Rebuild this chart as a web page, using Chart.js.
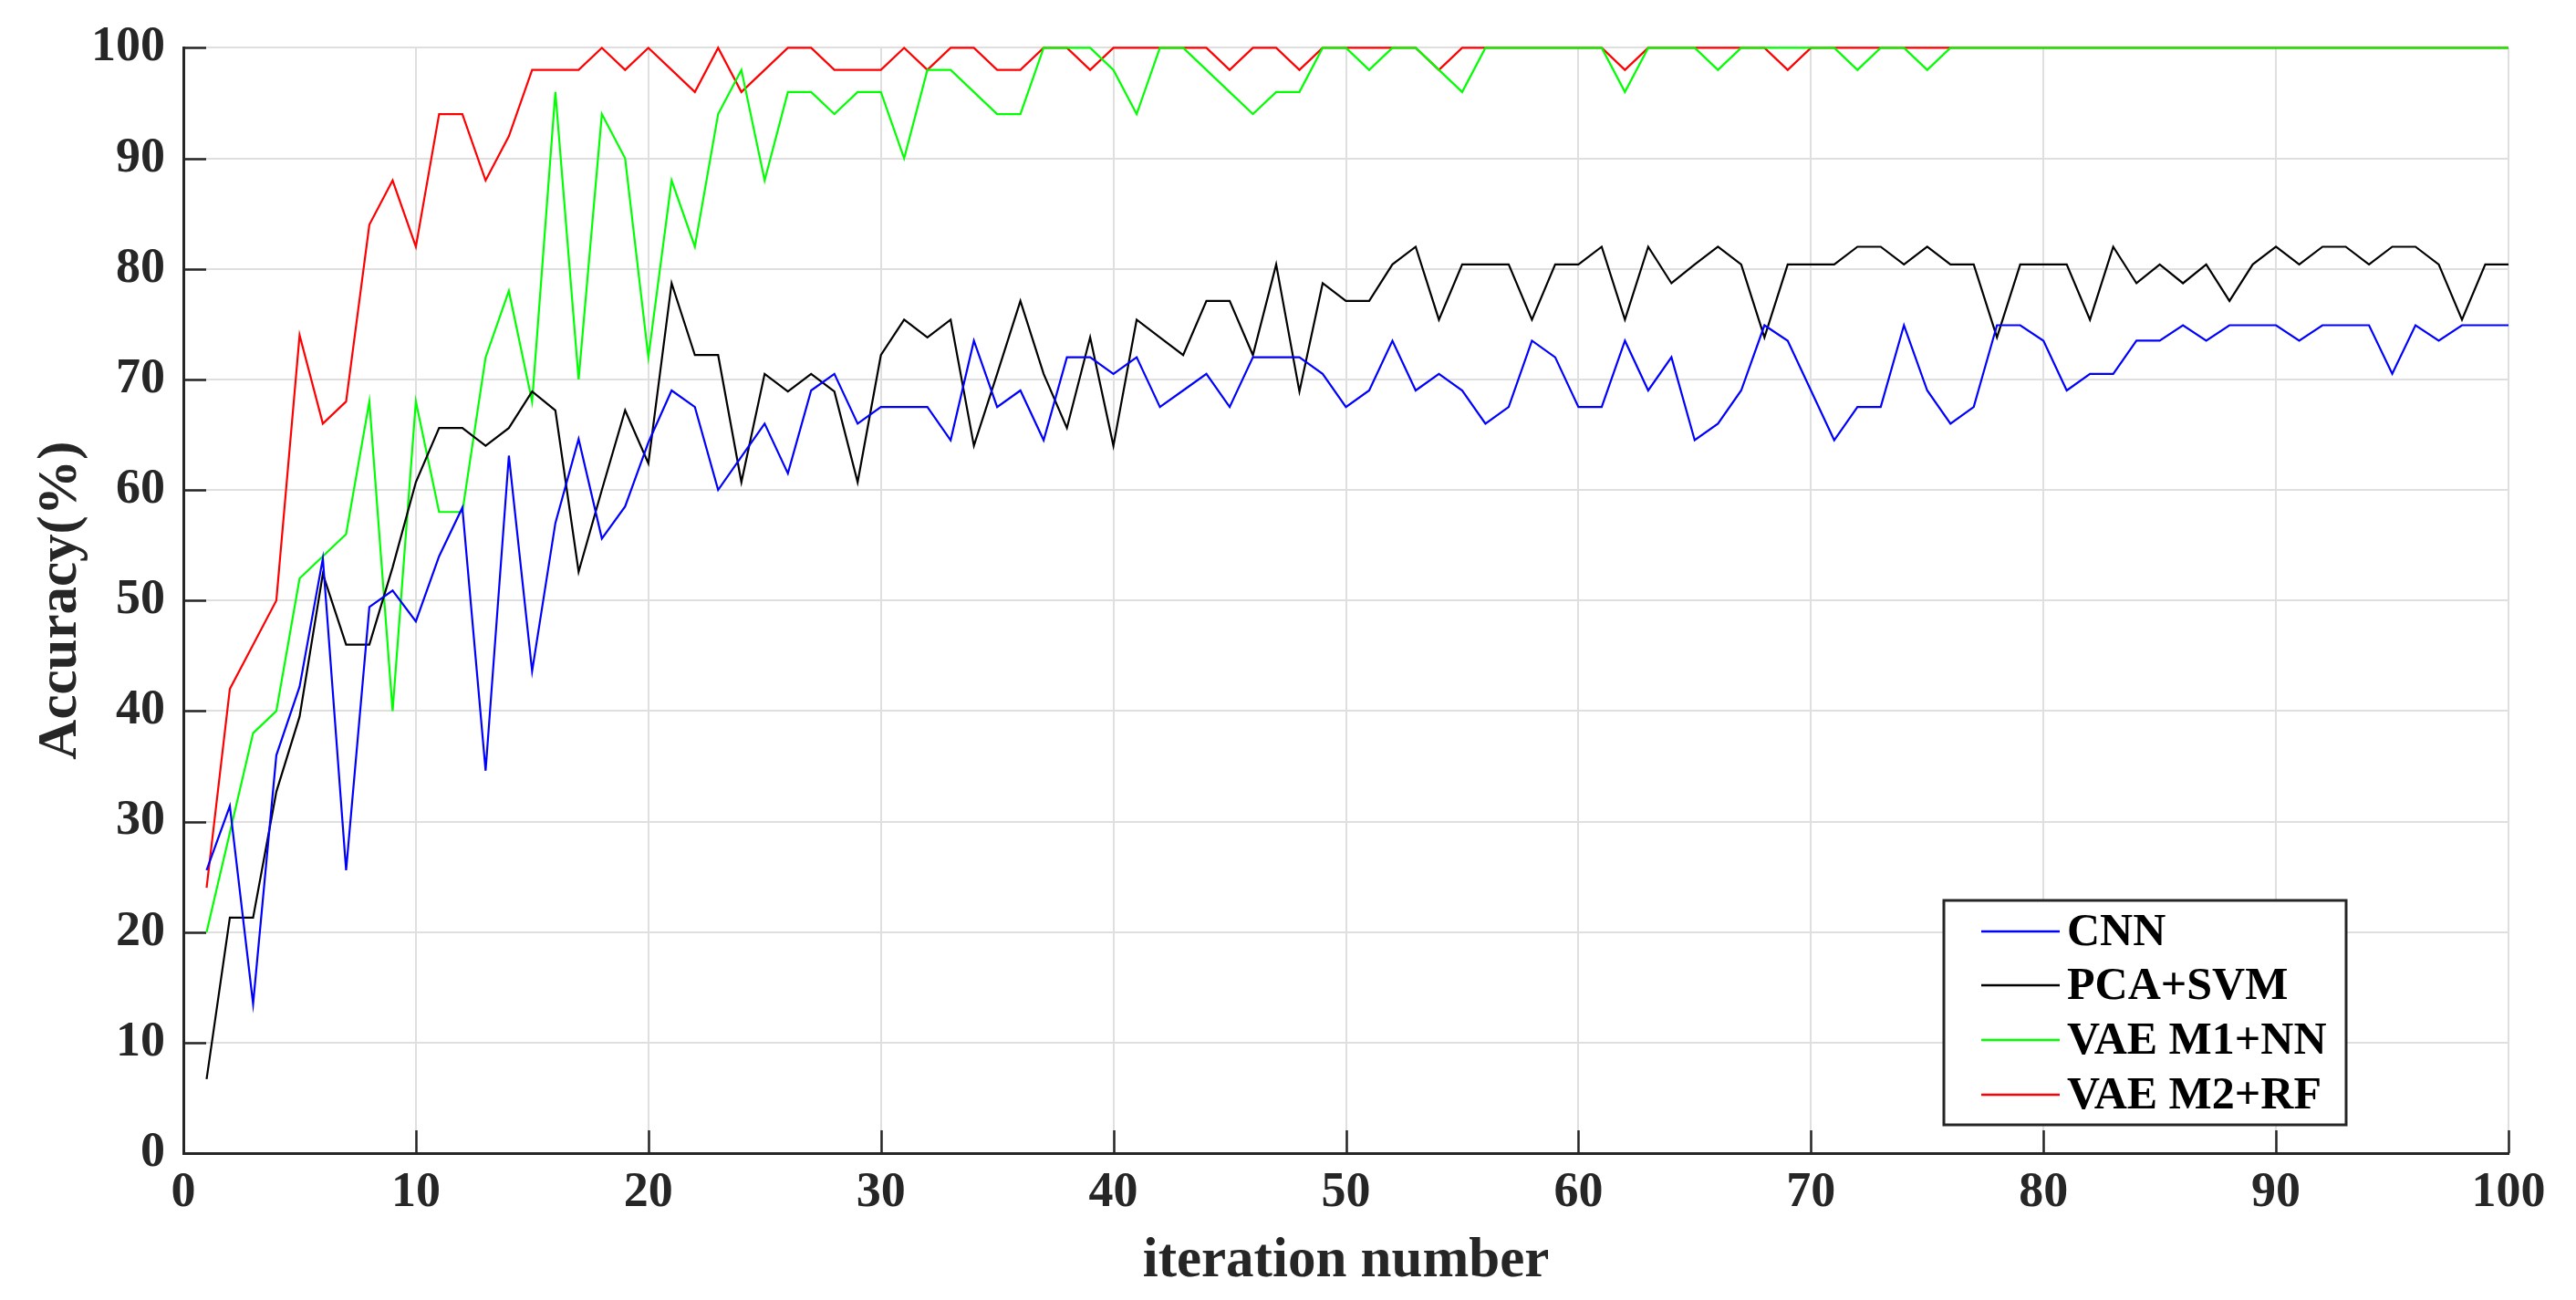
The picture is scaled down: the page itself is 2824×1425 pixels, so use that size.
<!DOCTYPE html>
<html>
<head>
<meta charset="utf-8">
<script src="https://cdn.jsdelivr.net/npm/chart.js@4.4.1/dist/chart.umd.min.js"></script>
<style>
  html, body { margin: 0; padding: 0; background: #ffffff; }
  canvas { display: block; }
</style>
</head>
<body>
<canvas id="c" width="2824" height="1425"></canvas>
<script>
const iterations = [1,2,3,4,5,6,7,8,9,10,11,12,13,14,15,16,17,18,19,20,21,22,23,24,25,26,27,28,29,30,31,32,33,34,35,36,37,38,39,40,41,42,43,44,45,46,47,48,49,50,51,52,53,54,55,56,57,58,59,60,61,62,63,64,65,66,67,68,69,70,71,72,73,74,75,76,77,78,79,80,81,82,83,84,85,86,87,88,89,90,91,92,93,94,95,96,97,98,99,100];

const seriesNames = ['CNN', 'PCA+SVM', 'VAE M1+NN', 'VAE M2+RF'];

const cnn = [25.6,31.4,13.5,36,42.2,53.8,25.6,49.4,50.9,48.1,
  54,58.4,34.6,63.1,43.6,57,64.6,55.6,58.5,64.3,
  69,67.5,60,63,66,61.5,69,70.5,66,67.5,
  67.5,67.5,64.5,73.5,67.5,69,64.5,72,72,70.5,
  72,67.5,69,70.5,67.5,72,72,72,70.5,67.5,
  69,73.5,69,70.5,69,66,67.5,73.5,72,67.5,
  67.5,73.5,69,72,64.5,66,69,74.9,73.5,69,
  64.5,67.5,67.5,74.9,69,66,67.5,74.9,74.9,73.5,
  69,70.5,70.5,73.5,73.5,74.9,73.5,74.9,74.9,74.9,
  73.5,74.9,74.9,74.9,70.5,74.9,73.5,74.9,74.9,74.9];

const pcaSvm = [6.7,21.3,21.3,32.7,39.5,52.4,46,46,53,60.7,
  65.6,65.6,64,65.6,68.9,67.2,52.6,60,67.2,62.4,
  78.7,72.2,72.2,60.7,70.5,68.9,70.5,68.9,60.7,72.2,
  75.4,73.8,75.4,64,70.5,77.1,70.5,65.6,73.8,64,
  75.4,73.8,72.2,77.1,77.1,72.2,80.4,68.9,78.7,77.1,
  77.1,80.4,82,75.4,80.4,80.4,80.4,75.4,80.4,80.4,
  82,75.4,82,78.7,80.4,82,80.4,73.8,80.4,80.4,
  80.4,82,82,80.4,82,80.4,80.4,73.8,80.4,80.4,
  80.4,75.4,82,78.7,80.4,78.7,80.4,77.1,80.4,82,
  80.4,82,82,80.4,82,82,80.4,75.4,80.4,80.4];

const vaeM1Nn = [20,29,38,40,52,54,56,68,40,68,
  58,58,72,78,68,96,70,94,90,72,
  88,82,94,98,88,96,96,94,96,96,
  90,98,98,96,94,94,100,100,100,98,
  94,100,100,98,96,94,96,96,100,100,
  98,100,100,98,96,100,100,100,100,100,
  100,96,100,100,100,98,100,100,100,100,
  100,98,100,100,98,100,100,100,100,100,
  100,100,100,100,100,100,100,100,100,100,
  100,100,100,100,100,100,100,100,100,100];

const vaeM2Rf = [24,42,46,50,74,66,68,84,88,82,
  94,94,88,92,98,98,98,100,98,100,
  98,96,100,96,98,100,100,98,98,98,
  100,98,100,100,98,98,100,100,98,100,
  100,100,100,100,98,100,100,98,100,100,
  100,100,100,98,100,100,100,100,100,100,
  100,98,100,100,100,100,100,100,98,100,
  100,100,100,100,100,100,100,100,100,100,
  100,100,100,100,100,100,100,100,100,100,
  100,100,100,100,100,100,100,100,100,100];

const xTicks = [0,10,20,30,40,50,60,70,80,90,100];
const yTicks = [0,10,20,30,40,50,60,70,80,90,100];

const seriesValues = [cnn, pcaSvm, vaeM1Nn, vaeM2Rf];
const seriesColors = ['#0000ff', '#000000', '#00ff00', '#ff0000'];

const FONT = '"Liberation Serif", "Times New Roman", serif';
const AXIS = '#262626';

const datasets = seriesValues.map((vals, k) => ({
  label: seriesNames[k],
  data: vals.map((v, i) => ({ x: iterations[i], y: v })),
  borderColor: seriesColors[k],
  backgroundColor: seriesColors[k],
  borderWidth: 2.2,
  pointRadius: 0,
  tension: 0,
  fill: false,
  clip: false
}));

const inwardTicks = {
  id: 'inwardTicks',
  beforeDatasetsDraw(chart) {
    const ctx = chart.ctx;
    const xs = chart.scales.x, ys = chart.scales.y;
    const a = chart.chartArea;
    ctx.save();
    ctx.strokeStyle = AXIS;
    ctx.lineWidth = 2.5;
    ctx.beginPath();
    xTicks.forEach(v => {
      const px = Math.round(xs.getPixelForValue(v)) + 0.5;
      ctx.moveTo(px, a.bottom);
      ctx.lineTo(px, a.bottom - 25);
    });
    yTicks.forEach(v => {
      const py = Math.round(ys.getPixelForValue(v)) + 0.5;
      ctx.moveTo(a.left, py);
      ctx.lineTo(a.left + 25, py);
    });
    ctx.stroke();
    ctx.restore();
  }
};

const boxLegend = {
  id: 'boxLegend',
  afterDraw(chart) {
    const ctx = chart.ctx;
    const left = 2131, top = 987, right = 2572, bottom = 1233;
    ctx.save();
    ctx.fillStyle = '#ffffff';
    ctx.fillRect(left, top, right - left, bottom - top);
    ctx.strokeStyle = AXIS;
    ctx.lineWidth = 3;
    ctx.strokeRect(left, top, right - left, bottom - top);
    const rowY = [1021, 1080, 1140, 1200];
    ctx.font = 'bold 50px ' + FONT;
    ctx.textBaseline = 'middle';
    ctx.textAlign = 'left';
    chart.data.datasets.forEach((ds, i) => {
      ctx.strokeStyle = ds.borderColor;
      ctx.lineWidth = 2.5;
      ctx.beginPath();
      ctx.moveTo(2172, rowY[i]);
      ctx.lineTo(2258, rowY[i]);
      ctx.stroke();
      ctx.fillStyle = '#000000';
      ctx.fillText(ds.label, 2266, rowY[i] + 2);
    });
    ctx.restore();
  }
};

new Chart(document.getElementById('c'), {
  type: 'line',
  data: { datasets },
  plugins: [inwardTicks, boxLegend],
  options: {
    responsive: false,
    devicePixelRatio: 1,
    animation: false,
    layout: { padding: { left: 0, right: 74, top: 49, bottom: 0 } },
    plugins: { legend: { display: false }, tooltip: { enabled: false } },
    scales: {
      x: {
        type: 'linear',
        min: 0, max: 100,
        afterFit(scale) { scale.height = 161; },
        afterBuildTicks(scale) { scale.ticks = xTicks.map(v => ({ value: v })); },
        ticks: {
          color: AXIS,
          font: { family: FONT, size: 54, weight: 'bold' },
          padding: 12,
          maxRotation: 0
        },
        grid: { color: '#dfdfdf', lineWidth: 2, drawTicks: false },
        border: { color: AXIS, width: 3 },
        title: {
          display: true,
          text: 'iteration number',
          color: AXIS,
          font: { family: FONT, size: 61, weight: 'bold' },
          padding: { top: 0, bottom: 5 }
        }
      },
      y: {
        type: 'linear',
        min: 0, max: 100,
        afterFit(scale) { scale.width = 201; },
        afterBuildTicks(scale) { scale.ticks = yTicks.map(v => ({ value: v })); },
        ticks: {
          color: AXIS,
          font: { family: FONT, size: 54, weight: 'bold' },
          padding: 20
        },
        grid: { color: '#dfdfdf', lineWidth: 2, drawTicks: false },
        border: { color: AXIS, width: 3 },
        title: {
          display: true,
          text: 'Accuracy(%)',
          color: AXIS,
          font: { family: FONT, size: 61, weight: 'bold' },
          padding: { top: 31, bottom: 0 }
        }
      }
    }
  }
});
</script>
</body>
</html>
